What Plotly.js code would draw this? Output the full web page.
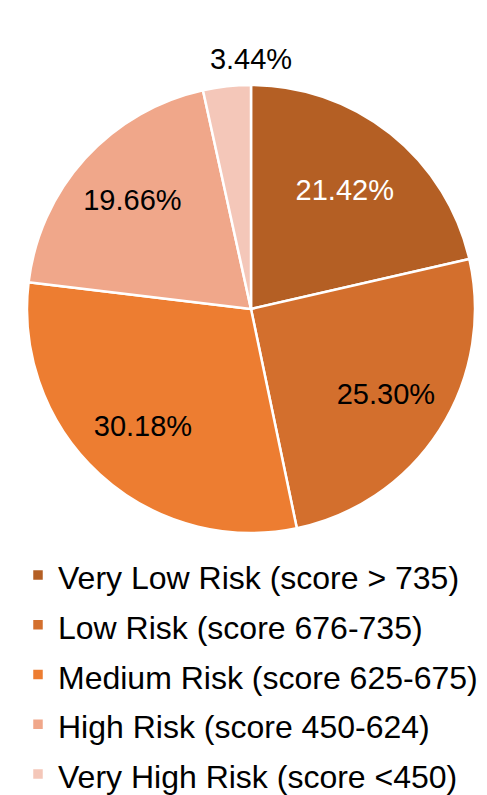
<!DOCTYPE html>
<html>
<head>
<meta charset="utf-8">
<script src="https://cdn.plot.ly/plotly-3.0.1.min.js"></script>
<style>html,body{margin:0;padding:0;background:#fff;}#chart{width:487px;height:795px;}</style>
</head>
<body>
<div id="chart"></div>
<script>
const categories = [
  "Very Low Risk (score > 735)",
  "Low Risk (score 676-735)",
  "Medium Risk (score 625-675)",
  "High Risk (score 450-624)",
  "Very High Risk (score <450)"
];
const shares = [21.42, 25.30, 30.18, 19.66, 3.44];
const sliceColors = ["#B45F24", "#D36F2D", "#ED7D31", "#F0A78A", "#F4C7B9"];
const labelColors = ["#FFFFFF", "#000000", "#000000", "#000000", "#000000"];
// the smallest slice's label is shown above the pie (as in the original, where it sits on a leader line)
const labelPositions = ["inside", "inside", "inside", "inside", "none"];
const labelPull = [0.27, 0.36, 0.39, 0.31, 0];

const legendLabels = categories.map(c => '<span style="font-size:32px">' + c + '</span>');
const FONT = "Liberation Sans, Arial, sans-serif";
const smallLabel = shares[4].toFixed(2) + "%";

// the pie itself (slices + legend)
const pieTrace = {
  type: "pie",
  labels: legendLabels,
  values: shares,
  sort: false,
  direction: "clockwise",
  rotation: 0,
  marker: {colors: sliceColors, line: {color: "#FFFFFF", width: 2.5}},
  textinfo: "none",
  hoverinfo: "none",
  domain: {x: [27/487, 475/487], y: [262/795, 710/795]}
};

// same data again, transparent, only to place the percentage labels
const labelTrace = {
  type: "pie",
  labels: legendLabels,
  values: shares,
  sort: false,
  direction: "clockwise",
  rotation: 0,
  pull: labelPull,
  showlegend: false,
  marker: {colors: shares.map(() => "rgba(0,0,0,0)"), line: {width: 0}},
  texttemplate: "%{percent:.2%}",
  textposition: labelPositions,
  insidetextorientation: "horizontal",
  textfont: {family: FONT, size: 29, color: labelColors},
  title: {text: smallLabel, position: "top center", font: {family: FONT, size: 29, color: "#000000"}},
  hoverinfo: "none",
  domain: {x: [15/487, 1], y: [250/795, 756/795]}
};

const layout = {
  width: 487,
  height: 795,
  margin: {l: 0, r: 0, t: 0, b: 0, autoexpand: false},
  paper_bgcolor: "#FFFFFF",
  showlegend: true,
  legend: {
    orientation: "v",
    x: 18/487,
    xanchor: "left",
    y: (795 - 545) / 795,
    yanchor: "top",
    font: {family: FONT, size: 36, color: "#000000"},
    bgcolor: "rgba(0,0,0,0)",
    itemclick: false
  }
};

Plotly.newPlot("chart", [pieTrace, labelTrace], layout, {displayModeBar: false, staticPlot: true});
</script>
</body>
</html>
